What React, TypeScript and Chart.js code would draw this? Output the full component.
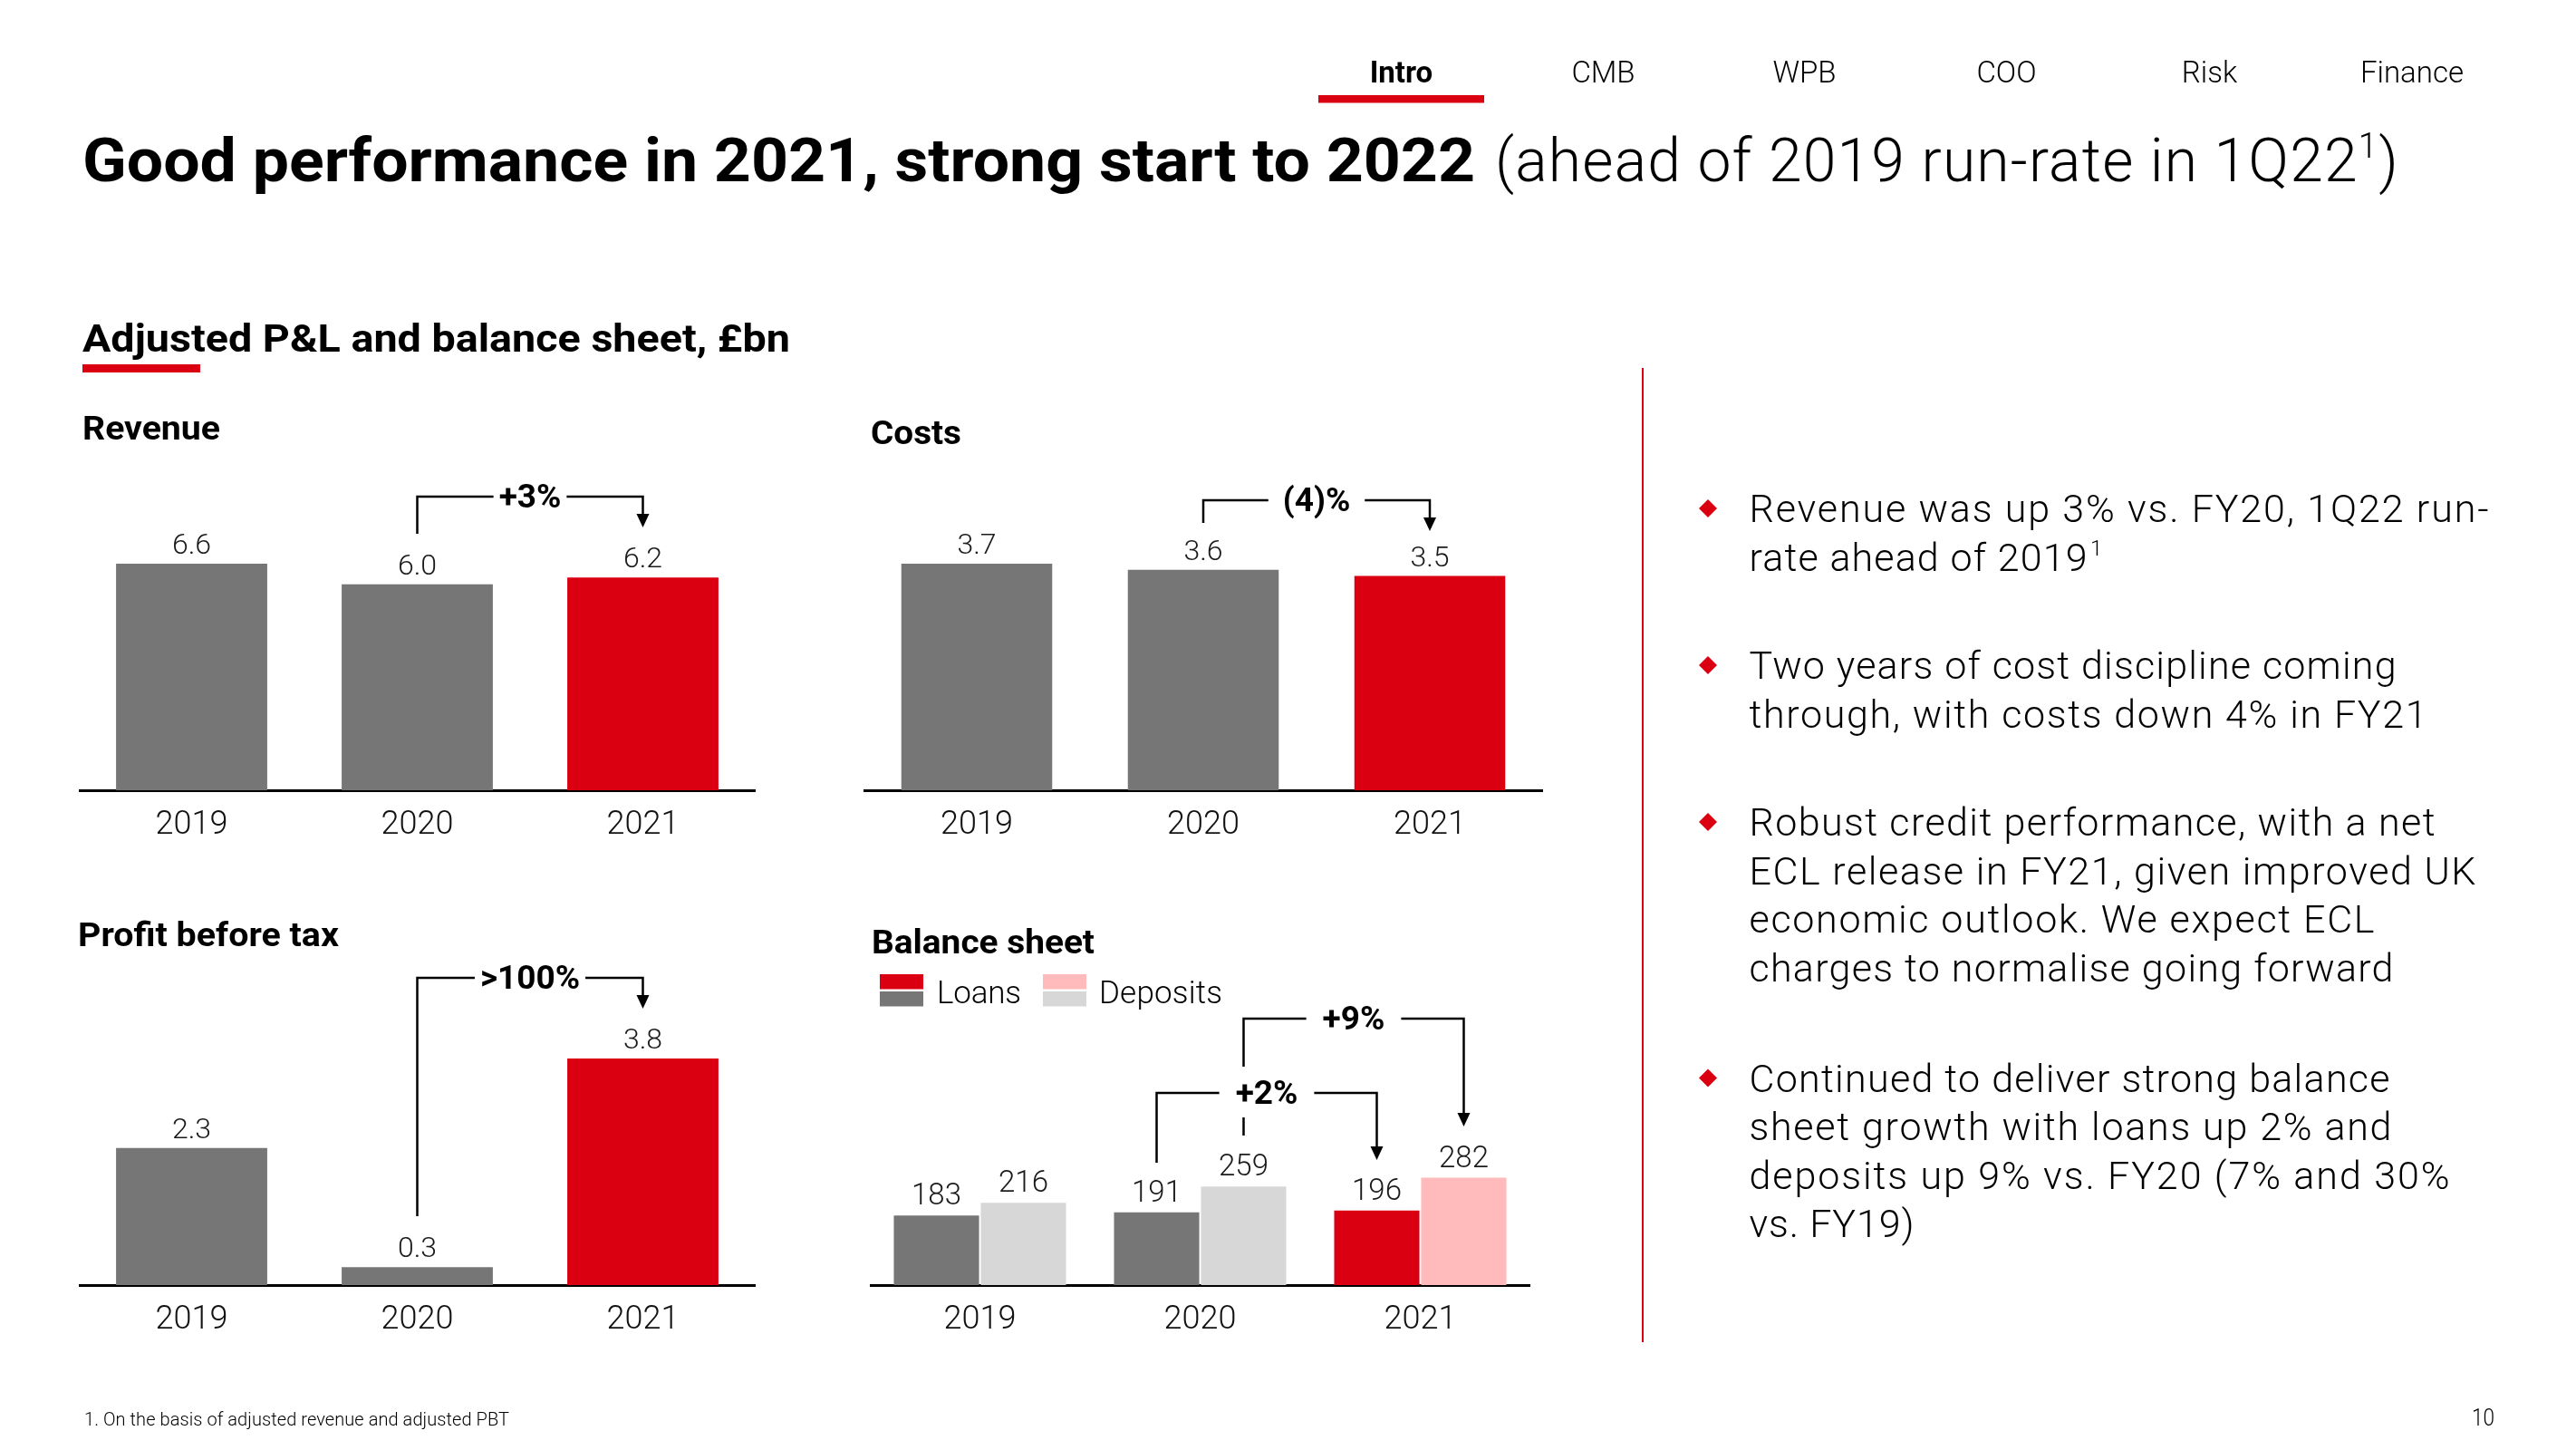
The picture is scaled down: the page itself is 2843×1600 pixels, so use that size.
import React, { useEffect, useRef } from "react";
import { Chart, registerables } from "chart.js";

Chart.register(...registerables);

// ---------------- DATA ----------------
const years = ["2019", "2020", "2021"];
const revenue = [6.6, 6.0, 6.2];
const costs = [3.7, 3.6, 3.5];
const profitBeforeTax = [2.3, 0.3, 3.8];
const loans = [183, 191, 196];
const deposits = [216, 259, 282];

const revenueChange = "+3%";
const costsChange = "(4)%";
const pbtChange = ">100%";
const loansChange = "+2%";
const depositsChange = "+9%";

const navItems = ["Intro", "CMB", "WPB", "COO", "Risk", "Finance"];
const titleBold = "Good performance in 2021, strong start to 2022";
const titleLight = "(ahead of 2019 run-rate in 1Q22";
const sectionTitle = "Adjusted P&L and balance sheet, £bn";
const footnote = "1. On the basis of adjusted revenue and adjusted PBT";
const pageNumber = "10";

const bullets = [
  ["Revenue was up 3% vs. FY20, 1Q22 run-", "rate ahead of 2019"],
  ["Two years of cost discipline coming", "through, with costs down 4% in FY21"],
  [
    "Robust credit performance, with a net",
    "ECL release in FY21, given improved UK",
    "economic outlook. We expect ECL",
    "charges to normalise going forward",
  ],
  [
    "Continued to deliver strong balance",
    "sheet growth with loans up 2% and",
    "deposits up 9% vs. FY20 (7% and 30%",
    "vs. FY19)",
  ],
];

// ---------------- STYLE / LAYOUT ----------------
const RED = "#DB0011";
const GRAY = "#767676";
const LIGHT = "#D7D7D7";
const PINK = "#FFBBBB";
const FONT = "Roboto";

const bulletLayout = [
  { y: 576, widths: [816, 373] },
  { y: 749, widths: [714, 748] },
  { y: 922, widths: [757, 802, 690, 711] },
  { y: 1204.5, widths: [707, 709, 773, 182] },
];
const BULLET_LINE = 53.6;

const panels: any[] = [
  {
    key: "rev",
    left: 87, width: 747, top: 520, axisY: 872,
    datasets: [{ data: revenue, colors: [GRAY, GRAY, RED] }],
    catPct: 1, barPct: 0.67, maxBarPx: 250, labelSize: 32, decimals: 1, labelGap: 11,
    brackets: [{ from: [0, 1], to: [0, 2], label: revenueChange, lineY: 548, leftBottom: 589, tipY: 582, gap: 6 }],
  },
  {
    key: "cost",
    left: 953, width: 750, top: 520, axisY: 872,
    datasets: [{ data: costs, colors: [GRAY, GRAY, RED] }],
    catPct: 1, barPct: 0.666, maxBarPx: 250, labelSize: 32, decimals: 1, labelGap: 11,
    brackets: [{ from: [0, 1], to: [0, 2], label: costsChange, lineY: 552, leftBottom: 577, tipY: 586, gap: 16 }],
  },
  {
    key: "pbt",
    left: 87, width: 747, top: 1050, axisY: 1418,
    datasets: [{ data: profitBeforeTax, colors: [GRAY, GRAY, RED] }],
    catPct: 1, barPct: 0.67, maxBarPx: 250, labelSize: 32, decimals: 1, labelGap: 11,
    brackets: [{ from: [0, 1], to: [0, 2], label: pbtChange, lineY: 1079, leftBottom: 1342, tipY: 1113, gap: 6 }],
  },
  {
    key: "bal",
    left: 960, width: 729, top: 1100, axisY: 1418,
    datasets: [
      { data: loans, colors: [GRAY, GRAY, RED] },
      { data: deposits, colors: [LIGHT, LIGHT, PINK] },
    ],
    catPct: 0.79, barPct: 0.98, pxPerUnit: 0.42, labelSize: 33, decimals: 0, labelGap: 12,
    brackets: [
      { from: [0, 1], to: [0, 2], label: loansChange, lineY: 1206, leftBottom: 1283, tipY: 1280, gap: 18 },
      { from: [1, 1], to: [1, 2], label: depositsChange, lineY: 1124, leftBottom: 1253, breakFrom: 1177, breakTo: 1233, tipY: 1243, gap: 18 },
    ],
  },
];

const AXIS_H = 70;

function BarPanel({ spec }: { spec: any }) {
  const ref = useRef<HTMLCanvasElement | null>(null);
  useEffect(() => {
    const canvas = ref.current;
    if (!canvas) return;
    const H = spec.axisY - spec.top;
    const maxVal = Math.max(...spec.datasets.flatMap((d: any) => d.data));
    const yMax = spec.pxPerUnit ? H / spec.pxPerUnit : (maxVal * H) / spec.maxBarPx;

    const overlay = {
      id: "overlay_" + spec.key,
      afterDatasetsDraw(chart: any) {
        const ctx = chart.ctx;
        ctx.save();
        // value labels
        ctx.font = `300 ${spec.labelSize}px ${FONT}`;
        ctx.fillStyle = "#1a1a1a";
        ctx.textAlign = "center";
        ctx.textBaseline = "alphabetic";
        chart.data.datasets.forEach((ds: any, di: number) => {
          const meta = chart.getDatasetMeta(di);
          meta.data.forEach((bar: any, i: number) => {
            const v = ds.data[i];
            ctx.fillText(v.toFixed(spec.decimals), bar.x, bar.y - spec.labelGap);
          });
        });
        // brackets
        const top = spec.top;
        spec.brackets.forEach((b: any) => {
          const x1 = chart.getDatasetMeta(b.from[0]).data[b.from[1]].x;
          const x2 = chart.getDatasetMeta(b.to[0]).data[b.to[1]].x;
          const yl = b.lineY - top;
          const tip = b.tipY - top;
          const head = 15;
          ctx.font = `700 37px ${FONT}`;
          const tw = ctx.measureText(b.label).width;
          const mid = (x1 + x2) / 2;
          ctx.strokeStyle = "#000";
          ctx.fillStyle = "#000";
          ctx.lineWidth = 2.5;
          ctx.lineCap = "butt";
          ctx.lineJoin = "miter";
          ctx.beginPath();
          if (b.breakFrom) {
            ctx.moveTo(x1, b.leftBottom - top);
            ctx.lineTo(x1, b.breakTo - top);
            ctx.moveTo(x1, b.breakFrom - top);
          } else {
            ctx.moveTo(x1, b.leftBottom - top);
          }
          ctx.lineTo(x1, yl);
          ctx.lineTo(mid - tw / 2 - b.gap, yl);
          ctx.moveTo(mid + tw / 2 + b.gap, yl);
          ctx.lineTo(x2, yl);
          ctx.lineTo(x2, tip - head + 1);
          ctx.stroke();
          ctx.beginPath();
          ctx.moveTo(x2 - 7, tip - head);
          ctx.lineTo(x2 + 7, tip - head);
          ctx.lineTo(x2, tip);
          ctx.closePath();
          ctx.fill();
          ctx.textAlign = "center";
          ctx.textBaseline = "middle";
          ctx.fillText(b.label, mid, yl + 3);
        });
        ctx.restore();
      },
    };

    const chart = new Chart(canvas, {
      type: "bar",
      data: {
        labels: years,
        datasets: spec.datasets.map((d: any) => ({
          data: d.data,
          backgroundColor: d.colors,
          borderWidth: 0,
          categoryPercentage: spec.catPct,
          barPercentage: spec.barPct,
        })),
      },
      options: {
        responsive: false,
        maintainAspectRatio: false,
        animation: false,
        layout: { padding: 0 },
        plugins: { legend: { display: false }, tooltip: { enabled: false } },
        scales: {
          x: {
            grid: { display: false, drawTicks: false },
            border: { display: true, color: "#000", width: 3 },
            ticks: {
              color: "#111",
              padding: 21,
              font: { family: FONT, size: 36, weight: "300", lineHeight: 1 },
            },
            afterFit: (scale: any) => {
              scale.height = AXIS_H;
            },
          },
          y: { display: false, min: 0, max: yMax },
        },
      },
      plugins: [overlay],
    } as any);
    return () => chart.destroy();
  }, [spec]);
  const h = spec.axisY - spec.top + AXIS_H;
  return (
    <canvas
      ref={ref}
      width={spec.width}
      height={h}
      style={{ position: "absolute", left: spec.left, top: spec.top, width: spec.width, height: h }}
    />
  );
}

export default function App() {
  useEffect(() => {
    document.body.style.margin = "0";
  }, []);
  const navX = [1546.5, 1769.5, 1991.5, 2214.5, 2438.5, 2662];
  return (
    <div
      style={{
        position: "fixed",
        left: 0,
        top: 0,
        width: 2843,
        height: 1600,
        background: "#fff",
        overflow: "hidden",
        fontFamily: FONT,
      }}
    >
      {panels.map((p) => (
        <BarPanel key={p.key} spec={p} />
      ))}
      <svg
        width={2843}
        height={1600}
        style={{ position: "absolute", left: 0, top: 0, pointerEvents: "none" }}
        fontFamily={FONT}
      >
        {/* navigation */}
        {navItems.map((n, i) => (
          <text
            key={n}
            x={navX[i]}
            y={91}
            textAnchor="middle"
            fontSize={33}
            fontWeight={i === 0 ? 700 : 300}
            fill="#000"
          >
            {n}
          </text>
        ))}
        <rect x={1455} y={105} width={183} height={8.5} fill={RED} />

        {/* title */}
        <text x={91} y={200} fontSize={66} fontWeight={700} fill="#000" textLength={1537} lengthAdjust="spacingAndGlyphs">
          {titleBold}
        </text>
        <text x={1650} y={200} fontSize={66} fontWeight={300} fill="#000" letterSpacing={1.2}>
          {titleLight}
          <tspan fontSize={38} dy={-26}>1</tspan>
          <tspan dy={26}>)</tspan>
        </text>

        {/* section header */}
        <text x={91} y={388} fontSize={42} fontWeight={700} fill="#000" textLength={781} lengthAdjust="spacingAndGlyphs">
          {sectionTitle}
        </text>
        <rect x={91} y={402} width={130} height={9} fill={RED} />

        {/* chart titles */}
        <text x={91} y={485} fontSize={37} fontWeight={700} fill="#000" textLength={152} lengthAdjust="spacingAndGlyphs">Revenue</text>
        <text x={961} y={490} fontSize={37} fontWeight={700} fill="#000" textLength={100} lengthAdjust="spacingAndGlyphs">Costs</text>
        <text x={86} y={1044} fontSize={37} fontWeight={700} fill="#000" textLength={288} lengthAdjust="spacingAndGlyphs">Profit before tax</text>
        <text x={962} y={1052} fontSize={37} fontWeight={700} fill="#000" textLength={246} lengthAdjust="spacingAndGlyphs">Balance sheet</text>

        {/* balance sheet legend */}
        <rect x={971} y={1075} width={48} height={16.5} fill={RED} />
        <rect x={971} y={1094} width={48} height={16.5} fill={GRAY} />
        <text x={1034} y={1107} fontSize={35} fontWeight={300} fill="#000" textLength={93} lengthAdjust="spacing">Loans</text>
        <rect x={1151} y={1075} width={48} height={16.5} fill={PINK} />
        <rect x={1151} y={1094} width={48} height={16.5} fill={LIGHT} />
        <text x={1213} y={1107} fontSize={35} fontWeight={300} fill="#000" textLength={136} lengthAdjust="spacing">Deposits</text>

        {/* divider */}
        <rect x={1812} y={406} width={2} height={1075} fill={RED} />

        {/* bullets */}
        {bullets.map((lines, bi) => {
          const lay = bulletLayout[bi];
          const cy = lay.y - 15;
          return (
            <g key={bi}>
              <polygon
                points={`1885,${cy - 10} 1895,${cy} 1885,${cy + 10} 1875,${cy}`}
                fill={RED}
              />
              {lines.map((ln, li) => (
                <text
                  key={li}
                  x={1930.5}
                  y={lay.y + li * BULLET_LINE}
                  fontSize={43}
                  fontWeight={300}
                  fill="#000"
                  textLength={lay.widths[li]}
                  lengthAdjust="spacing"
                >
                  {ln}
                </text>
              ))}
              {bi === 0 && (
                <text x={2307} y={lay.y + BULLET_LINE - 17} fontSize={24} fontWeight={300} fill="#000">
                  1
                </text>
              )}
            </g>
          );
        })}

        {/* footnote & page number */}
        <text x={93} y={1573} fontSize={20} fontWeight={300} fill="#000" textLength={469} lengthAdjust="spacing">
          {footnote}
        </text>
        <text x={2728} y={1573} fontSize={25} fontWeight={300} fill="#000" textLength={25} lengthAdjust="spacingAndGlyphs">
          {pageNumber}
        </text>
      </svg>
    </div>
  );
}
